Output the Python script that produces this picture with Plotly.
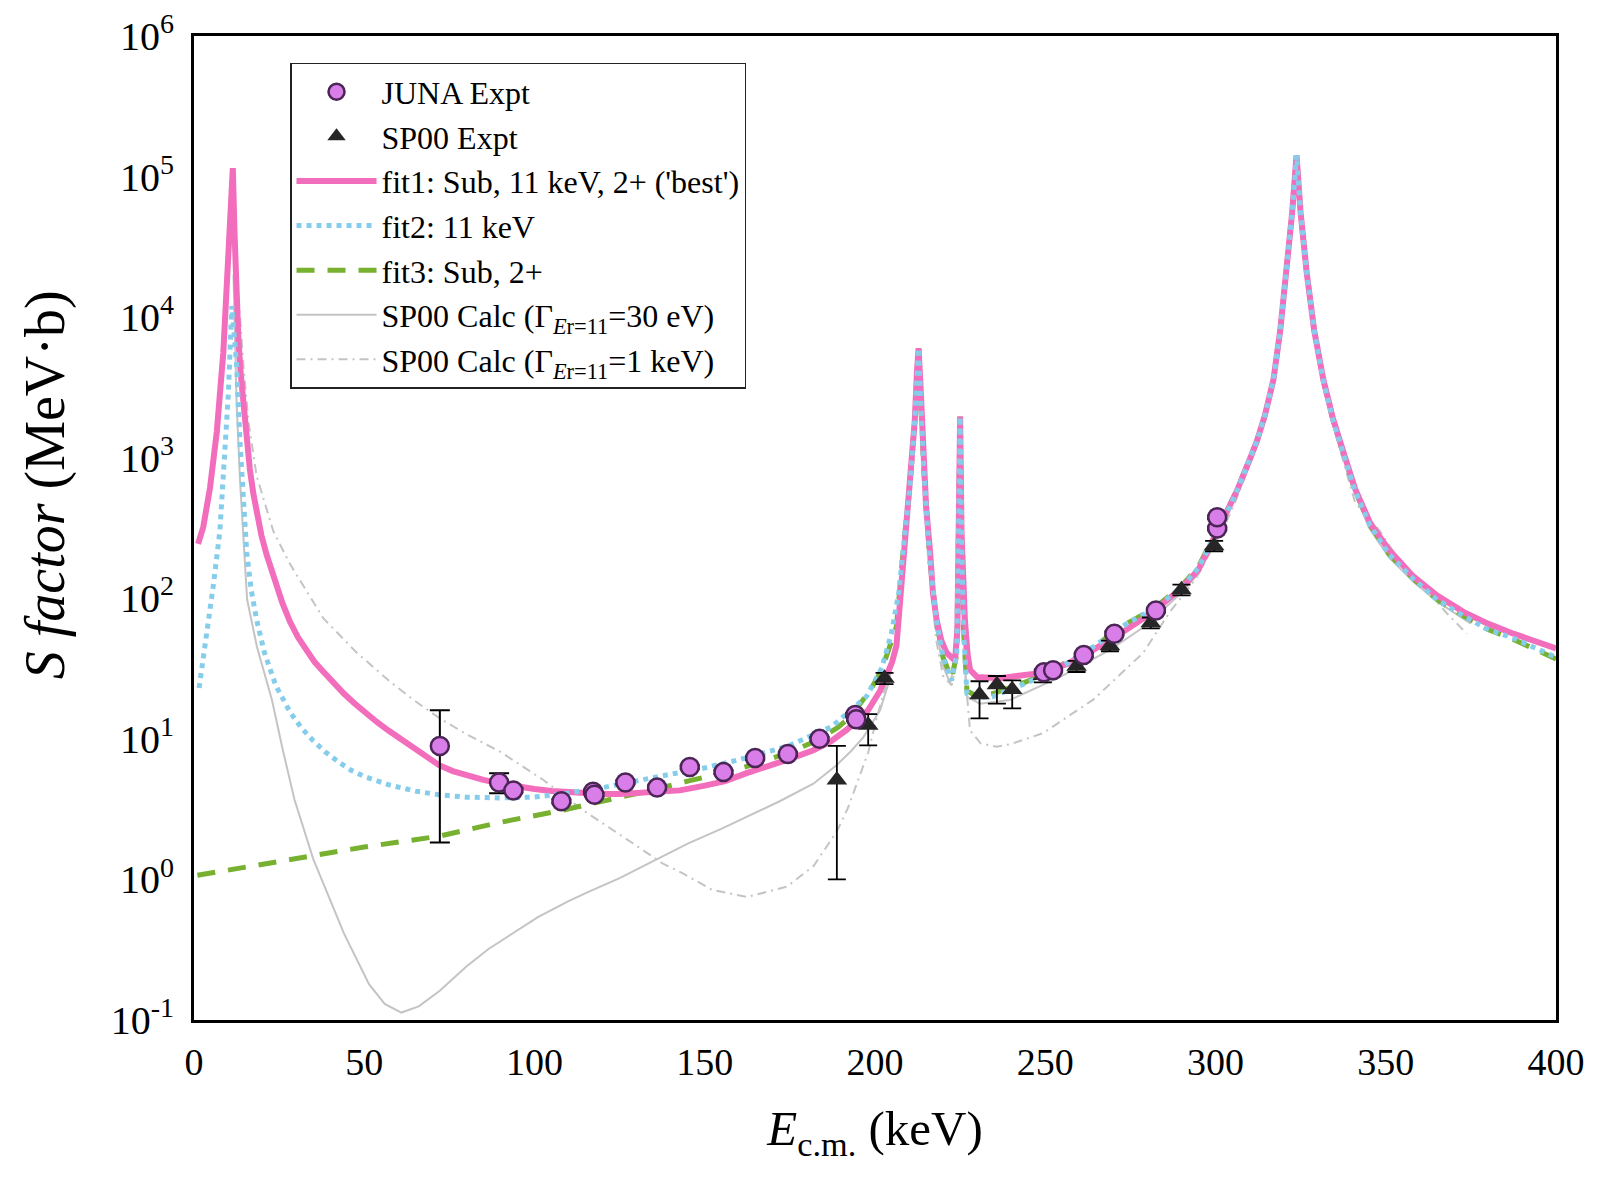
import plotly.graph_objects as go

# ---------------- data ----------------
juna_E = [72.2, 89.6, 93.8, 107.9, 117.2, 117.6, 126.7, 136.0, 145.6, 155.5, 164.8, 174.4,
          183.7, 194.2, 194.5, 249.6, 252.3, 261.3, 270.3, 282.5, 300.5, 300.5]
juna_S = [8.9, 4.9, 4.3, 3.6, 4.2, 4.0, 4.9, 4.5, 6.3, 5.8, 7.3, 7.8,
          10.0, 14.8, 13.8, 29.8, 30.8, 39.5, 56.0, 82.0, 314.0, 377.0]
juna_err_up = [7.1, 0.8, 0.15, 0.12, 0.13, 0.12, 0.15, 0.14, 0.2, 0.18, 0.22, 0.25,
               0.3, 0.45, 0.4, 0.9, 0.9, 1.2, 1.7, 2.5, 9.0, 11.0]
juna_err_dn = [7.07, 0.8, 0.15, 0.12, 0.13, 0.12, 0.15, 0.14, 0.2, 0.18, 0.22, 0.25,
               0.3, 0.45, 0.4, 0.9, 0.9, 1.2, 1.7, 2.5, 9.0, 11.0]

sp00_E = [188.8, 198.0, 202.8, 230.7, 235.8, 240.3, 249.3, 259.2, 269.0, 281.0, 290.0, 299.6]
sp00_S = [5.1, 12.5, 27.0, 20.6, 24.3, 22.4, 28.2, 32.9, 46.0, 67.0, 115.0, 236.0]
sp00_err_up = [3.8, 2.5, 2.5, 5.1, 3.7, 3.7, 3.0, 3.0, 4.0, 6.0, 10.0, 20.0]
sp00_err_dn = [4.1, 3.5, 2.5, 6.6, 6.5, 5.9, 3.0, 3.0, 4.0, 6.0, 10.0, 20.0]

fit1_E = [1.2, 2.7, 4.7, 6.7, 8.6, 10.1, 11.0, 11.4, 11.9, 12.4, 13.0, 13.7, 14.5, 15.4, 16.4,
          17.4, 18.4, 19.8, 21.3, 22.8, 24.3, 26.0, 28.2, 30.5, 33, 35.5, 38, 41, 44, 47, 50,
          53.5, 57, 61, 65, 68.5, 72, 76, 80, 85, 90, 95, 100, 105, 110, 115, 120, 125, 130,
          135, 142.7, 150, 156, 162.3, 168, 175, 181.9, 187, 191.7, 195, 198, 201.5, 203.5,
          205, 206.3, 207.5, 208.3, 209.5, 210.3, 211.2, 211.7, 212.3,
          212.8, 213.3, 213.8, 214.2, 215, 216.2, 217, 218.1, 219.5, 221, 223.5, 224.2, 224.6,
          225.0, 225.4, 225.8, 226.4, 227.2, 227.9, 230, 236.7, 246.5, 256.3, 264.1, 272, 281.7,
          290, 295, 300.5, 303, 306, 309, 312.1, 314.5, 317, 319, 320.9, 322.5, 323.8, 325, 326.8,
          329, 331.7, 334.5, 337.5, 341, 345.4, 351, 358.1, 365, 372.8, 380, 387.5, 394, 400]
fit1_S = [244, 320, 610, 1530, 5560, 29000, 75000, 115000, 40000, 15000, 7300, 4000, 2300, 1300, 830,
          560, 400, 280, 205, 155, 120, 92, 68, 53, 43, 35, 30, 25, 21, 18, 15.5,
          13.3, 11.5, 9.8, 8.5, 7.4, 6.5, 5.9, 5.5, 5.1, 4.8, 4.55, 4.4, 4.25, 4.15, 4.08, 4.05, 4.05, 4.1,
          4.15, 4.3, 4.65, 5.0, 5.7, 6.3, 7.2, 8.3, 9.6, 11.6, 13.6, 16, 22, 28,
          35, 46, 100, 210, 400, 615, 1200, 1860, 4000,
          6000, 3500, 1700, 1070, 450, 209, 110, 70, 50, 41, 36, 60, 300,
          1960, 300, 130, 70, 40, 31, 27.5, 27, 29, 34, 43, 56, 80,
          118, 160, 300, 390, 560, 840, 1300, 2000, 3570, 8000, 20600, 55000, 142000, 55000, 20600,
          8000, 3570, 1900, 1110, 600, 343, 220, 143, 105, 80, 66, 56, 49, 44]

fit2_E = [1.5, 3.7, 5.7, 7.6, 8.6, 10.1, 11.1, 11.7, 12.5, 13.5, 14.5, 15.5, 16.8, 18.4, 20.7,
          24, 28.2, 31.5, 35, 38.5, 42.7, 46, 50, 57.3, 65, 72, 80, 90, 100, 109.5, 120, 129,
          140, 148.6, 160, 174, 187.3, 197.5, 202,
          204.8, 207, 208.5, 210.3, 211.7, 212.8, 213.6, 214.5, 216, 218, 220, 222.5, 224,
          224.6, 225, 225.4, 226, 227, 230, 234.7, 244.5, 254.3, 264, 273.9, 282, 290, 295,
          300.5, 303, 306, 309, 312.1, 314.5, 317, 319, 320.9, 322.5, 323.8, 325, 326.8, 329, 331.7,
          334.5, 337.5, 341, 345.4, 351, 358, 365, 372.8, 380, 387.5, 394, 400]
fit2_S = [23, 55, 125, 300, 740, 2900, 12000, 8000, 4660, 1300, 450, 210, 115, 70, 41,
          24, 15.5, 12, 9.7, 8.1, 6.8, 6.0, 5.4, 4.7, 4.25, 4.0, 3.85, 3.8, 3.85, 4.1, 4.5, 5.0,
          5.6, 6.1, 7.1, 8.8, 12.2, 20, 32,
          56, 110, 250, 650, 1900, 6000, 2000, 700, 200, 70, 38, 26, 40,
          300, 1960, 300, 60, 21, 19.5, 20, 25, 32, 45, 66, 84, 120, 165,
          300, 390, 560, 840, 1300, 2000, 3570, 8000, 20600, 55000, 142000, 55000, 20600, 8000, 3500,
          1850, 1080, 580, 330, 205, 138, 98, 75, 60, 52, 44, 38]

fit3_E = [1, 20, 35, 50, 72, 90, 108, 117, 127, 136, 145, 152, 160, 167, 174, 182, 189, 193,
          196, 199, 202, 204, 206.3, 208.5, 210.3,
          211.7, 212.8, 213.6, 214.5, 216, 218, 220, 222.5, 224, 224.6, 225, 225.4, 226, 227,
          230, 234.7, 244.5, 254.3, 264, 273.9, 282, 290, 295, 300.5, 303, 306, 309, 312.1, 314.5,
          317, 319, 320.9, 322.5, 323.8, 325, 326.8, 329, 331.7, 334.5, 337.5, 341, 345.4, 351,
          358, 365, 372.8, 380, 387.5, 394, 400]
fit3_S = [1.07, 1.28, 1.47, 1.7, 2.03, 2.55, 3.1, 3.45, 3.9, 4.4, 5.0, 5.5, 6.1, 6.9, 7.9, 9.5,
          12, 14.5, 18, 23, 31, 42, 63, 250, 650,
          1900, 6000, 2000, 700, 200, 70, 38, 27, 40, 300, 1960, 300, 60, 22,
          20, 21, 25.5, 33, 45, 66, 85, 122, 168, 310, 400, 570, 850, 1300, 2000,
          3570, 8000, 20600, 55000, 142000, 55000, 20600, 8000, 3500, 1850, 1080, 580, 330, 205,
          138, 98, 75, 60, 51, 43, 37]

calc30_E = [11.6, 12.5, 13.5, 14.5, 15.6, 18.5, 22.9, 26, 29.5, 35, 40, 44.1, 51.4, 56, 60.9,
            66, 72, 80, 86.5, 94, 101, 110, 116, 125, 137.6, 145, 155, 162.3, 172, 181.9,
            188.7, 193, 196.6, 201.5, 204, 206.3, 208.5, 210.3, 211.7, 212.8, 213.6, 214.5, 216,
            218, 220, 222, 224, 224.6, 225, 225.4, 226, 227, 230.8, 239.6, 254.3, 269, 280,
            290, 295, 300.5, 303, 306, 309, 312.1, 314.5, 317, 319, 320.9, 322.5, 323.8, 325, 326.8,
            329, 331.7, 334.5, 337.5, 341, 345, 351, 358, 365, 375]
calc30_S = [20000, 2500, 700, 250, 98, 45, 18.9, 8.5, 3.7, 1.4, 0.72, 0.41, 0.18, 0.13, 0.113,
            0.125, 0.16, 0.24, 0.32, 0.42, 0.54, 0.7, 0.82, 1.02, 1.45, 1.8, 2.3, 2.8, 3.6, 4.8,
            6.5, 8.2, 10.3, 16, 25, 50, 230, 620, 1850, 5800, 1900, 650, 180,
            60, 33, 25, 38, 280, 1900, 280, 50, 20, 17.8, 18.9, 27.5, 43, 65,
            110, 150, 290, 375, 540, 820, 1250, 1950, 3500, 7800, 20000, 54000, 140000, 54000, 20000,
            7800, 3400, 1800, 1050, 560, 320, 195, 132, 95, 66]

calc1k_E = [11.8, 13, 14.5, 16, 18.4, 23.3, 28.2, 38, 47.8, 57.6, 65, 72.2, 80, 89.9, 102.6,
            114.3, 129, 137.6, 143.7, 152.3, 162.5, 174.2, 182, 188.8, 192, 195, 198, 200.5,
            203.4, 206.3, 208.5, 210.3, 211.7, 212.8, 213.6, 214.5, 216, 218, 220, 222.5, 224,
            224.6, 225, 225.4, 226, 227.9, 231, 235.7, 240, 249.4, 264.1, 278.8, 286.6, 294.5,
            300.5, 303, 306, 309, 312.1, 314.5, 317, 319, 320.9, 322.5, 323.8, 325, 326.8, 329, 331.7,
            334.5, 337.5, 341, 348.3, 355, 363, 368, 373.8]
calc1k_S = [55000, 15000, 4600, 1800, 740, 300, 175, 72, 41, 25.5, 18.5, 14, 10.8, 8.1, 5.1,
            3.1, 1.8, 1.3, 1.1, 0.84, 0.75, 0.89, 1.25, 2.2, 3.2, 5.0, 8.0, 14,
            25, 45, 200, 580, 1800, 5500, 1800, 600, 160, 50, 28, 24, 35,
            260, 1800, 260, 40, 11.5, 9.3, 8.8, 9.2, 11, 19, 41, 80, 141,
            260, 340, 500, 780, 1200, 1900, 3400, 7600, 19500, 52000, 135000, 52000, 18000, 7000, 3200,
            1700, 950, 480, 300, 170, 107, 78, 56]

x_ticks = [0, 50, 100, 150, 200, 250, 300, 350, 400]
y_ticks = [0.1, 1, 10, 100, 1000, 10000, 100000, 1000000]
y_ticktext = ["10<sup>-1</sup>", "10<sup>0</sup>", "10<sup>1</sup>", "10<sup>2</sup>",
              "10<sup>3</sup>", "10<sup>4</sup>", "10<sup>5</sup>", "10<sup>6</sup>"]

# ---------------- figure ----------------
SERIF = "Liberation Serif, Times New Roman, serif"
PINK = "#F26DBC"
BLUE = "#86CDEC"
GREEN = "#77B12F"
GREY = "#C4C4C4"

fig = go.Figure()

fig.add_trace(go.Scatter(
    x=calc30_E, y=calc30_S, mode="lines", name="SP00 Calc (Γ<sub><i>E</i>r=11</sub>=30 eV)",
    line=dict(color=GREY, width=2), legendrank=6))
fig.add_trace(go.Scatter(
    x=calc1k_E, y=calc1k_S, mode="lines", name="SP00 Calc (Γ<sub><i>E</i>r=11</sub>=1 keV)",
    line=dict(color=GREY, width=2, dash="9px,5px,2px,5px"), legendrank=7))
fig.add_trace(go.Scatter(
    x=fit3_E, y=fit3_S, mode="lines", name="fit3: Sub, 2+",
    line=dict(color=GREEN, width=5, dash="18px,13px"), legendrank=5))
fig.add_trace(go.Scatter(
    x=fit1_E, y=fit1_S, mode="lines", name="fit1: Sub, 11 keV, 2+ ('best')",
    line=dict(color=PINK, width=6), legendrank=3))
fig.add_trace(go.Scatter(
    x=fit2_E, y=fit2_S, mode="lines", name="fit2: 11 keV",
    line=dict(color=BLUE, width=5, dash="dot"), legendrank=4))

fig.add_trace(go.Scatter(
    x=sp00_E, y=sp00_S, mode="markers", name="SP00 Expt",
    marker=dict(symbol="triangle-up", size=18, color="#262626"),
    error_y=dict(type="data", symmetric=False, array=sp00_err_up, arrayminus=sp00_err_dn,
                 color="black", thickness=1.8, width=9),
    legendrank=2))
fig.add_trace(go.Scatter(
    x=juna_E, y=juna_S, mode="markers", name="JUNA Expt",
    marker=dict(symbol="circle", size=18, color="#D97EE8",
                line=dict(color="#4A2556", width=2.5)),
    error_y=dict(type="data", symmetric=False, array=juna_err_up, arrayminus=juna_err_dn,
                 color="black", thickness=2, width=10),
    legendrank=1))

fig.update_layout(
    width=1600, height=1178,
    margin=dict(l=186, r=52, t=28, b=166),
    paper_bgcolor="white", plot_bgcolor="white",
    font=dict(family=SERIF, color="black", size=30),
    showlegend=True,
    legend=dict(
        x=0.0705, y=0.9726, xanchor="left", yanchor="top",
        bgcolor="white", bordercolor="#222222", borderwidth=1.5,
        font=dict(family=SERIF, size=32, color="black"),
        itemwidth=80, tracegroupgap=4,
    ),
    annotations=[dict(
        text="<i>S factor</i> (MeV·b)", xref="paper", yref="paper",
        x=-0.109, y=0.544, xanchor="center", yanchor="middle", textangle=-90,
        showarrow=False, font=dict(family=SERIF, size=56, color="black"),
    )],
)

fig.update_xaxes(
    range=[0, 400], tickvals=x_ticks, ticktext=[str(v) for v in x_ticks],
    showgrid=False, zeroline=False, showline=True, linecolor="black", linewidth=3,
    mirror=True, ticks="", tickfont=dict(family=SERIF, size=38), ticklabelstandoff=6,
    automargin=False, ticklabeloverflow="allow",
    title=dict(text="<i>E</i><sub>c.m.</sub> (keV)", font=dict(family=SERIF, size=49),
               standoff=30),
)
fig.update_yaxes(
    type="log", range=[-1, 6], tickvals=y_ticks, ticktext=y_ticktext,
    showgrid=False, zeroline=False, showline=True, linecolor="black", linewidth=3,
    mirror=True, ticks="", tickfont=dict(family=SERIF, size=40), ticklabelstandoff=9,
    automargin=False, ticklabeloverflow="allow",
)

fig.write_html("out.html")
